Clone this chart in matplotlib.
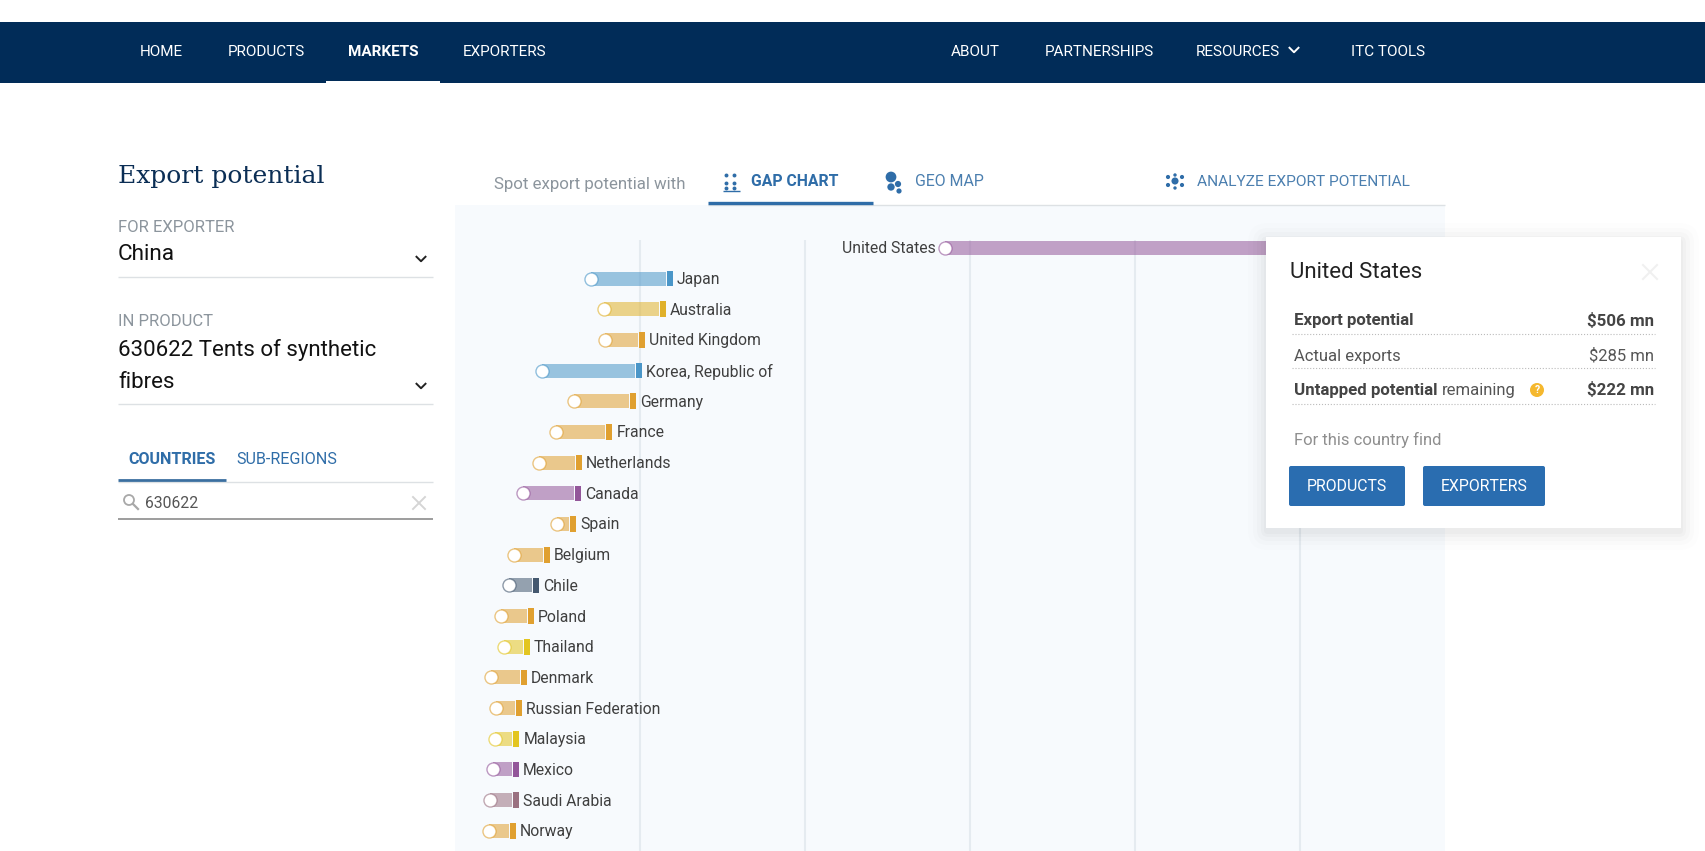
import matplotlib
matplotlib.use("Agg")
import matplotlib.pyplot as plt
from matplotlib.colors import to_rgba
from matplotlib.patches import FancyBboxPatch, Rectangle, Circle

plt.rcParams["font.family"] = ["Roboto", "DejaVu Sans"]

# USD mn
countries = ["United States", "Japan", "Australia", "United Kingdom", "Korea, Republic of",
             "Germany", "France", "Netherlands", "Canada", "Spain", "Belgium", "Chile",
             "Poland", "Thailand", "Denmark", "Russian Federation", "Malaysia", "Mexico",
             "Saudi Arabia", "Norway"]
actual = [285, 70.1, 78.0, 78.6, 40.4, 60.2, 49.1, 38.6, 29.1, 49.5, 23.4, 20.8,
          15.8, 17.8, 9.5, 12.9, 12.3, 11.1, 8.9, 8.3]
potential = [506, 119.8, 115.6, 103, 101, 97.8, 83.2, 64.6, 64, 61.4, 45.2, 39,
             35.5, 33.3, 31.5, 28.5, 26.9, 26.7, 26.5, 24.8]
colors = ["#93569A", "#4A96C8", "#E0B12A", "#E0A030", "#4A96C8", "#E0A030", "#E0A030",
          "#E0A030", "#93569A", "#E0A030", "#E0A030", "#44586F", "#E0A030", "#E3C520",
          "#E0A030", "#E0A030", "#E3C520", "#93569A", "#9A7080", "#E0A030"]
grid_ticks = [100, 200, 300, 400, 500]

nav_left = [("HOME", 140, "normal"), ("PRODUCTS", 228, "normal"), ("MARKETS", 348, "bold"),
            ("EXPORTERS", 463, "normal")]
nav_right = [("ABOUT", 951), ("PARTNERSHIPS", 1045), ("RESOURCES", 1196), ("ITC TOOLS", 1351)]

W, H = 1705, 851
NAVY = "#012C58"
BLUE = "#2F6DA8"
GREY = "#8C959D"

fig = plt.figure(figsize=(W / 100, H / 100), dpi=100)
fig.patch.set_facecolor("white")

# chart panel, x axis in USD mn
ax = fig.add_axes([455 / W, 1 - 851 / H, 990 / W, 646 / H], zorder=1)
ax.set_facecolor("#F7FAFD")
ax.set_xlim(-12.1, 587.9)
ax.set_ylim(19.66, -1.40)
ax.set_xticks([])
ax.set_yticks([])
for s in ax.spines.values():
    s.set_visible(False)
ax.vlines(grid_ticks, -0.26, 19.66, color="#E5EBF0", lw=1.5, zorder=1)

cap = 3.6
gap = 0.6
for i, name in enumerate(countries):
    ax.barh(i, potential[i] - cap - gap - actual[i], left=actual[i], height=0.46,
            color=colors[i], alpha=0.55, lw=0, zorder=2)
    ax.barh(i, cap, left=potential[i] - cap, height=0.51, color=colors[i], lw=0, zorder=3)
    ax.plot(actual[i], i, "o", ms=9.4, mfc="white", mec=to_rgba(colors[i], 0.6), mew=1.0,
            zorder=4)
    if i == 0:
        ax.annotate(name, (actual[i], i), xytext=(-7, -0.7), textcoords="offset points",
                    ha="right", va="center", fontsize=11.3, color="#3F3F3F", zorder=5)
    else:
        ax.annotate(name, (potential[i], i), xytext=(3.0, -0.7), textcoords="offset points",
                    ha="left", va="center", fontsize=11.3, color="#3F3F3F", zorder=5)

# page furniture in pixel coordinates
ui = fig.add_axes([0, 0, 1, 1], zorder=2)
ui.set_xlim(0, W)
ui.set_ylim(H, 0)
ui.axis("off")


def label(x, y, s, size=11, color="#333333", weight="normal", ha="left", **kw):
    ui.text(x, y + 1, s, fontsize=size, color=color, fontweight=weight, ha=ha, va="center", **kw)


def hline(x0, x1, y, color="#DDE1E4", lw=1.0, ls="-"):
    ui.plot([x0, x1], [y, y], color=color, lw=lw, ls=ls, solid_capstyle="butt")


def chevron(x, y, size=4, color="#222222", lw=1.4):
    ui.plot([x - size, x, x + size], [y - size / 2, y + size / 2, y - size / 2], color=color, lw=lw)


# top bar
ui.add_patch(Rectangle((0, 22), W, 61, color=NAVY, lw=0))
ui.add_patch(Rectangle((326, 81), 114, 2.2, color="white", lw=0))
for s, x, w in nav_left:
    label(x, 51, s, size=11, color="white", weight=w)
for s, x in nav_right:
    label(x, 51, s, size=11, color="white")
chevron(1294, 50, size=4.5, color="white")

# left column
label(118, 176, "Export potential", size=18, color="#0B2E55", family="DejaVu Serif")
label(118, 226, "FOR EXPORTER", size=12, color=GREY)
label(118, 254, "China", size=16.2, color="#111111")
chevron(421, 259, size=4.5)
hline(118, 433, 277)
label(118, 321, "IN PRODUCT", size=12, color=GREY)
label(118, 349, "630622 Tents of synthetic", size=16, color="#111111")
label(118, 381, "fibres", size=16, color="#111111")
chevron(421, 386, size=4.5)
hline(118, 433, 404)
label(128, 458, "COUNTRIES", size=11.6, color=BLUE, weight="bold")
label(236, 458, "SUB-REGIONS", size=11.6, color=BLUE)
hline(118, 433, 482)
hline(118, 226, 480, color="#3B6FA0", lw=2)
ui.add_patch(Circle((129, 500), 5, fc="none", ec="#A8A8A8", lw=1.3))
ui.plot([133, 138], [504, 509], color="#A8A8A8", lw=1.6)
label(145, 502, "630622", size=11.3, color="#555555")
ui.plot([413, 425], [497, 509], color="#D5D5D5", lw=1.4)
ui.plot([413, 425], [509, 497], color="#D5D5D5", lw=1.4)
hline(118, 433, 519, color="#8C8C8C", lw=1.2)

# tabs above the chart
label(494, 183, "Spot export potential with", size=12.2, color=GREY)
ui.scatter([726, 734, 726, 734, 726, 734], [175, 175, 183, 183, 188, 188], s=8, color=BLUE, lw=0)
hline(723, 740, 191, color=BLUE, lw=1)
label(751, 181, "GAP CHART", size=11.3, color=BLUE, weight="bold")
ui.scatter([891, 898, 891, 899], [177, 184, 187, 191], s=[60, 20, 28, 14], color=BLUE, lw=0)
label(915, 181, "GEO MAP", size=11.4, color="#4B7FAF")
ui.scatter([1175, 1168, 1182, 1168, 1182, 1175, 1175], [181, 177, 177, 185, 185, 175, 188],
           s=[26, 9, 9, 9, 9, 6, 6], color=BLUE, lw=0)
label(1197, 181, "ANALYZE EXPORT POTENTIAL", size=11.15, color="#4B7FAF")
hline(708, 1445, 205, color="#DDE1E4")
hline(708, 873, 203, color=BLUE, lw=2.4)

# tooltip with a soft shadow
for grow, a in [(18, 0.008), (13, 0.011), (9, 0.014), (5, 0.018), (2, 0.02)]:
    ui.add_patch(FancyBboxPatch((1266 - grow, 237 - grow + 4), 415 + 2 * grow, 291 + 2 * grow,
                                boxstyle="round,pad=0,rounding_size=%d" % (grow + 2),
                                fc="black", ec="none", alpha=a))
ui.add_patch(Rectangle((1266, 237), 415, 291, fc="white", ec="none"))
label(1290, 272, "United States", size=16, color="#222222")
ui.plot([1643, 1657], [265, 279], color="#F0F0F0", lw=1.4)
ui.plot([1643, 1657], [279, 265], color="#F0F0F0", lw=1.4)
label(1294, 320, "Export potential", size=12.2, color="#444444", weight="bold")
label(1654, 320, "$506 mn", size=12.2, color="#444444", weight="bold", ha="right")
hline(1292, 1655, 334, color="#BBBBBB", lw=0.8, ls=":")
label(1294, 355, "Actual exports", size=12, color="#555555")
label(1654, 355, "$285 mn", size=12, color="#555555", ha="right")
hline(1292, 1655, 368, color="#BBBBBB", lw=0.8, ls=":")
label(1294, 389, "Untapped potential", size=12.2, color="#444444", weight="bold")
label(1442, 389, "remaining", size=12, color="#555555")
ui.add_patch(Circle((1537, 390), 7, fc="#F5B82E", ec="none"))
label(1537, 389, "?", size=7.5, color="white", weight="bold", ha="center")
label(1654, 389, "$222 mn", size=12.2, color="#444444", weight="bold", ha="right")
hline(1292, 1655, 404, color="#BBBBBB", lw=0.8, ls=":")
label(1294, 439, "For this country find", size=12, color="#8F8F8F")
for x0, x1, s in [(1289, 1405, "PRODUCTS"), (1423, 1545, "EXPORTERS")]:
    ui.add_patch(FancyBboxPatch((x0, 466), x1 - x0, 40, boxstyle="round,pad=0,rounding_size=2",
                                fc="#2A6DB0", ec="none"))
    label((x0 + x1) / 2, 485.5, s, size=11.4, color="white", ha="center")

fig.savefig("out.png", dpi=100)
